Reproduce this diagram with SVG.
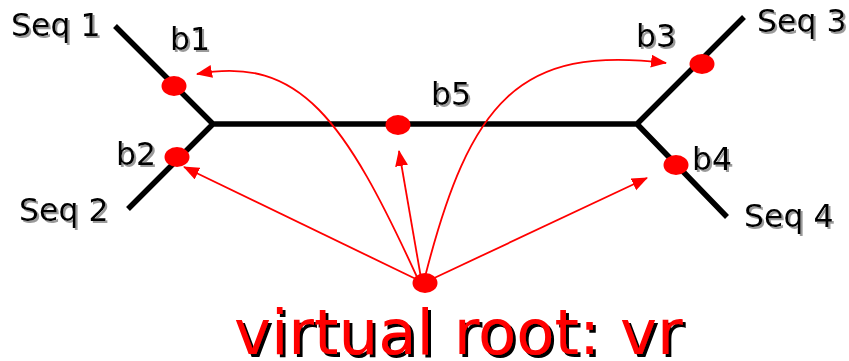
<svg xmlns="http://www.w3.org/2000/svg" width="849" height="361" viewBox="0 0 849 361">
<style>
.lbl{font-family:"DejaVu Sans",sans-serif;font-size:31.5px;fill:#000;filter:url(#gs)}
.big{font-family:"DejaVu Sans",sans-serif;font-size:62.5px;fill:#ff0000;filter:url(#bs)}
.br{stroke:#000;stroke-width:5.5;fill:none}
.ar{stroke:#ff0000;stroke-width:1.8;fill:none;marker-end:url(#ah)}
.pt{fill:#ff0000}
</style>
<defs>
<marker id="ah" markerUnits="userSpaceOnUse" markerWidth="18" markerHeight="14" refX="15" refY="6.5" orient="auto">
<path d="M0,0 L16,6.5 L0,13 Z" fill="#ff0000"/>
</marker>
<filter id="gs" x="-10%" y="-20%" width="130%" height="150%">
<feDropShadow dx="2" dy="2" stdDeviation="0.6" flood-color="#9a9a9a" flood-opacity="1"/>
</filter>
<filter id="bs" x="-5%" y="-20%" width="115%" height="150%">
<feDropShadow dx="3" dy="3" stdDeviation="0.5" flood-color="#000" flood-opacity="1"/>
</filter>
</defs>
<rect width="849" height="361" fill="#fff"/>
<g id="tree">
<path class="br" d="M115,26 L213,124 L128,209 M213,124 L637,124 L744,17 M637,124 L727,217"/>
</g>
<g id="connectors">
<path class="ar" d="M418,280 L184,167"/>
<path class="ar" d="M421,278 L399,151"/>
<path class="ar" d="M430,280 L647,178"/>
<path class="ar" d="M417,277 C345,120 300,55 197,74"/>
<path class="ar" d="M425,277 C470,100 520,45 666,63"/>
</g>
<g id="b1"><ellipse class="pt" cx="174" cy="86" rx="12.5" ry="10"/><text class="lbl" x="170" y="50">b1</text></g>
<g id="b2"><ellipse class="pt" cx="177" cy="157" rx="12.5" ry="10"/><text class="lbl" x="116" y="165">b2</text></g>
<g id="b5"><ellipse class="pt" cx="398" cy="125" rx="12.5" ry="10"/><text class="lbl" x="431" y="105">b5</text></g>
<g id="b3"><ellipse class="pt" cx="702" cy="64" rx="12.5" ry="10"/><text class="lbl" x="636" y="47">b3</text></g>
<g id="b4"><ellipse class="pt" cx="676" cy="165" rx="12.5" ry="10"/><text class="lbl" x="692" y="170">b4</text></g>
<g id="seq1"><text class="lbl" x="11" y="36">Seq 1</text></g>
<g id="seq2"><text class="lbl" x="19" y="221">Seq 2</text></g>
<g id="seq3"><text class="lbl" x="757" y="32">Seq 3</text></g>
<g id="seq4"><text class="lbl" x="744" y="227">Seq 4</text></g>
<g id="vr"><ellipse class="pt" cx="425" cy="283" rx="12.5" ry="10"/>
<text class="big" x="234" y="354">virtual root: vr</text></g>
</svg>
